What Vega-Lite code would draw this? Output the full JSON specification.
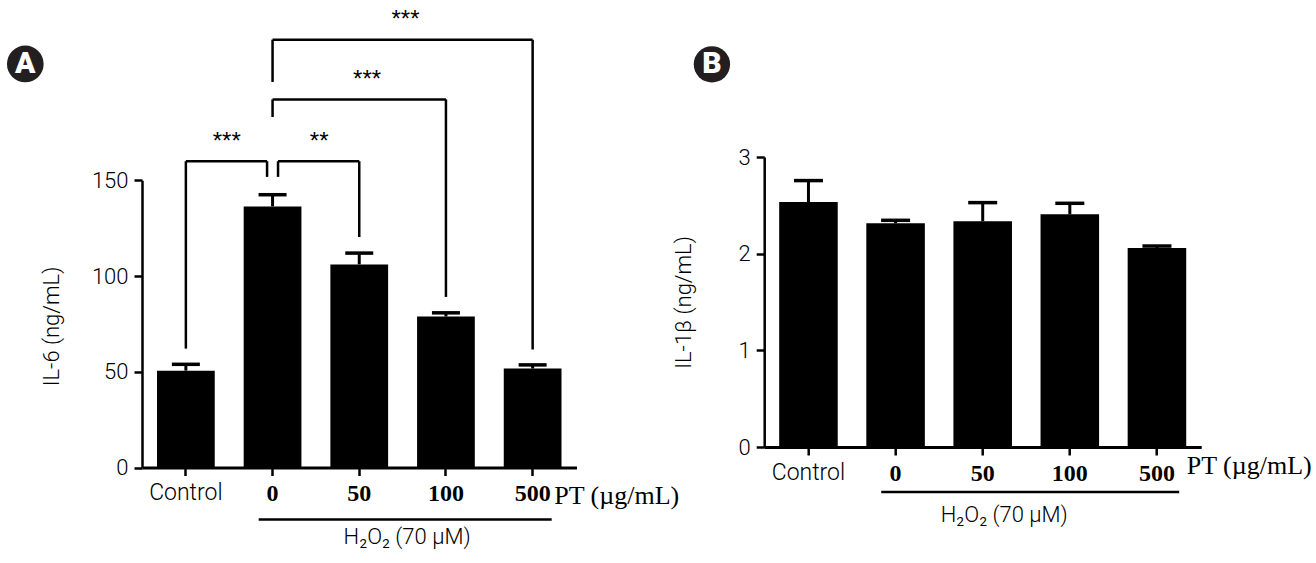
{
  "$schema": "https://vega.github.io/schema/vega-lite/v6.json",
  "padding": {"left": 6, "top": 8, "right": 5, "bottom": 5},
  "bounds": "flush",
  "spacing": 187.2,
  "datasets": {
    "il6": [
      {"group": "Control", "mean": 50.6, "upper": 53.9},
      {"group": "0", "mean": 136.4, "upper": 142.5},
      {"group": "50", "mean": 106.1, "upper": 112.0},
      {"group": "100", "mean": 78.9, "upper": 80.8},
      {"group": "500", "mean": 51.7, "upper": 53.6}
    ],
    "il1b": [
      {"group": "Control", "mean": 2.534, "upper": 2.756},
      {"group": "0", "mean": 2.314, "upper": 2.345},
      {"group": "50", "mean": 2.335, "upper": 2.528},
      {"group": "100", "mean": 2.407, "upper": 2.521},
      {"group": "500", "mean": 2.059, "upper": 2.079}
    ],
    "sigA": [
      {"pair": "Control-0", "g1": "Control", "g2": "0", "top": 160.0, "foot1": 62.1, "foot2": 151.8, "stars": "***", "starY": 166.6},
      {"pair": "0-50", "g1": "0", "g2": "50", "top": 160.0, "foot1": 151.8, "foot2": 120.4, "stars": "**", "starY": 166.6},
      {"pair": "0-100", "g1": "0", "g2": "100", "top": 192.3, "foot1": 183.1, "foot2": 89.1, "stars": "***", "starY": 198.7},
      {"pair": "0-500", "g1": "0", "g2": "500", "top": 223.5, "foot1": 201.4, "foot2": 61.7, "stars": "***", "starY": 230.1}
    ],
    "treatment": [
      {"label": "H₂O₂ (70 µM)", "from": "0", "to": "500"}
    ],
    "badges": [
      {"panel": "A"},
      {"panel": "B"}
    ]
  },
  "config": {
    "view": {"stroke": null},
    "font": "Roboto",
    "axis": {
      "grid": false,
      "domainColor": "#000",
      "tickColor": "#000",
      "labelColor": "#000",
      "titleColor": "#000",
      "domainWidth": 2.5,
      "tickWidth": 2.5,
      "tickSize": 8,
      "labelFont": "Roboto",
      "labelFontWeight": 300,
      "labelFontSize": 22,
      "labelPadding": 6,
      "titleFont": "Roboto",
      "titleFontWeight": 300,
      "titleFontSize": 22
    }
  },
  "hconcat": [
    {
      "width": 434.5,
      "height": 310.5,
      "layer": [
        {
          "data": {"name": "il6"},
          "mark": {"type": "bar", "color": "#000"},
          "encoding": {
            "x": {
              "field": "group", "type": "nominal", "sort": null,
              "scale": {"domain": ["Control", "0", "50", "100", "500"], "paddingInner": 0.334, "paddingOuter": 0.173},
              "axis": {
                "title": "PT (µg/mL)",
                "labelAngle": 0,
                "domainWidth": 3,
                "labelFont": {"condition": {"test": "datum.value === 'Control'", "value": "Roboto"}, "value": "Liberation Serif"},
                "labelFontWeight": {"condition": {"test": "datum.value === 'Control'", "value": 300}, "value": "bold"},
                "labelFontSize": {"condition": {"test": "datum.value === 'Control'", "value": 23}, "value": 24},
                "titleFont": "Liberation Serif",
                "titleFontWeight": "normal",
                "titleFontSize": 26,
                "titleAlign": "left",
                "titleBaseline": "alphabetic",
                "titleX": 411.7,
                "titleY": 35.8
              }
            },
            "y": {
              "field": "mean", "type": "quantitative",
              "scale": {"domain": [0, 162.2], "nice": false},
              "axis": {"title": "IL-6 (ng/mL)", "values": [0, 50, 100, 150], "format": "d", "domainDash": [287.2, 60], "titlePadding": 28, "titleY": 169}
            }
          }
        },
        {
          "data": {"name": "il6"},
          "mark": {"type": "rule", "color": "#000", "strokeWidth": 3},
          "encoding": {
            "x": {"field": "group", "type": "nominal", "bandPosition": 0.5},
            "y": {"field": "mean", "type": "quantitative"},
            "y2": {"field": "upper"}
          }
        },
        {
          "data": {"name": "il6"},
          "mark": {"type": "tick", "color": "#000", "orient": "horizontal", "size": 28, "thickness": 3.5, "opacity": 1},
          "encoding": {
            "x": {"field": "group", "type": "nominal"},
            "y": {"field": "upper", "type": "quantitative"}
          }
        },
        {
          "data": {"name": "sigA"},
          "transform": [{"filter": "datum.pair === 'Control-0'"}],
          "layer": [
            {"mark": {"type": "rule", "color": "#000", "strokeWidth": 2.5},
             "encoding": {"x": {"field": "g1", "type": "nominal", "bandPosition": 0.5}, "x2": {"field": "g2", "bandPosition": 0.405}, "y": {"field": "top", "type": "quantitative"}}},
            {"mark": {"type": "rule", "color": "#000", "strokeWidth": 2.5},
             "encoding": {"x": {"field": "g1", "type": "nominal", "bandPosition": 0.5}, "y": {"field": "top", "type": "quantitative"}, "y2": {"field": "foot1"}}},
            {"mark": {"type": "rule", "color": "#000", "strokeWidth": 2.5},
             "encoding": {"x": {"field": "g2", "type": "nominal", "bandPosition": 0.405}, "y": {"field": "top", "type": "quantitative"}, "y2": {"field": "foot2"}}},
            {"mark": {"type": "text", "font": "Liberation Sans", "fontSize": 24, "align": "center", "baseline": "alphabetic", "color": "#000"},
             "encoding": {"x": {"field": "g1", "type": "nominal", "bandPosition": 1.208}, "y": {"field": "starY", "type": "quantitative"}, "text": {"field": "stars"}}}
          ]
        },
        {
          "data": {"name": "sigA"},
          "transform": [{"filter": "datum.pair === '0-50'"}],
          "layer": [
            {"mark": {"type": "rule", "color": "#000", "strokeWidth": 2.5},
             "encoding": {"x": {"field": "g1", "type": "nominal", "bandPosition": 0.595}, "x2": {"field": "g2", "bandPosition": 0.5}, "y": {"field": "top", "type": "quantitative"}}},
            {"mark": {"type": "rule", "color": "#000", "strokeWidth": 2.5},
             "encoding": {"x": {"field": "g1", "type": "nominal", "bandPosition": 0.595}, "y": {"field": "top", "type": "quantitative"}, "y2": {"field": "foot1"}}},
            {"mark": {"type": "rule", "color": "#000", "strokeWidth": 2.5},
             "encoding": {"x": {"field": "g2", "type": "nominal", "bandPosition": 0.5}, "y": {"field": "top", "type": "quantitative"}, "y2": {"field": "foot2"}}},
            {"mark": {"type": "text", "font": "Liberation Sans", "fontSize": 24, "align": "center", "baseline": "alphabetic", "color": "#000"},
             "encoding": {"x": {"field": "g1", "type": "nominal", "bandPosition": 1.308}, "y": {"field": "starY", "type": "quantitative"}, "text": {"field": "stars"}}}
          ]
        },
        {
          "data": {"name": "sigA"},
          "transform": [{"filter": "datum.pair === '0-100' || datum.pair === '0-500'"}],
          "layer": [
            {"mark": {"type": "rule", "color": "#000", "strokeWidth": 2.5},
             "encoding": {"x": {"field": "g1", "type": "nominal", "bandPosition": 0.5}, "x2": {"field": "g2", "bandPosition": 0.5}, "y": {"field": "top", "type": "quantitative"}}},
            {"mark": {"type": "rule", "color": "#000", "strokeWidth": 2.5},
             "encoding": {"x": {"field": "g1", "type": "nominal", "bandPosition": 0.5}, "y": {"field": "top", "type": "quantitative"}, "y2": {"field": "foot1"}}},
            {"mark": {"type": "rule", "color": "#000", "strokeWidth": 2.5},
             "encoding": {"x": {"field": "g2", "type": "nominal", "bandPosition": 0.5}, "y": {"field": "top", "type": "quantitative"}, "y2": {"field": "foot2"}}}
          ]
        },
        {
          "data": {"name": "sigA"},
          "transform": [{"filter": "datum.pair === '0-100'"}],
          "mark": {"type": "text", "font": "Liberation Sans", "fontSize": 24, "align": "center", "baseline": "alphabetic", "color": "#000"},
          "encoding": {"x": {"field": "g1", "type": "nominal", "bandPosition": 2.137}, "y": {"field": "starY", "type": "quantitative"}, "text": {"field": "stars"}}
        },
        {
          "data": {"name": "sigA"},
          "transform": [{"filter": "datum.pair === '0-500'"}],
          "mark": {"type": "text", "font": "Liberation Sans", "fontSize": 24, "align": "center", "baseline": "alphabetic", "color": "#000"},
          "encoding": {"x": {"field": "g1", "type": "nominal", "bandPosition": 2.802}, "y": {"field": "starY", "type": "quantitative"}, "text": {"field": "stars"}}
        },
        {
          "data": {"name": "treatment"},
          "layer": [
            {"mark": {"type": "rule", "color": "#000", "strokeWidth": 2.5},
             "encoding": {"x": {"field": "from", "type": "nominal", "bandPosition": 0.26}, "x2": {"field": "to", "bandPosition": 0.83}, "y": {"datum": -27.1}}},
            {"mark": {"type": "text", "font": "Roboto", "fontWeight": 300, "fontSize": 22, "align": "center", "baseline": "alphabetic", "color": "#000"},
             "encoding": {"x": {"datum": "50", "bandPosition": 1.329}, "y": {"datum": -40.1}, "text": {"field": "label"}}}
          ]
        },
        {
          "data": {"name": "badges"},
          "transform": [{"filter": "datum.panel === 'A'"}],
          "layer": [
            {"mark": {"type": "point", "shape": "circle", "filled": true, "size": 1346, "color": "#231f20", "opacity": 1},
             "encoding": {"x": {"datum": "Control", "bandPosition": -2.281}, "y": {"datum": 210.8}}},
            {"mark": {"type": "text", "font": "Roboto", "fontWeight": 900, "fontSize": 30, "align": "center", "baseline": "middle", "color": "#fff"},
             "encoding": {"x": {"datum": "Control", "bandPosition": -2.281}, "y": {"datum": 210.8}, "text": {"field": "panel"}}}
          ]
        }
      ]
    },
    {
      "width": 437,
      "height": 290,
      "layer": [
        {
          "data": {"name": "il1b"},
          "mark": {"type": "bar", "color": "#000"},
          "encoding": {
            "x": {
              "field": "group", "type": "nominal", "sort": null,
              "scale": {"domain": ["Control", "0", "50", "100", "500"], "paddingInner": 0.328, "paddingOuter": 0.172},
              "axis": {
                "title": "PT (µg/mL)",
                "labelAngle": 0,
                "domainWidth": 3,
                "labelFont": {"condition": {"test": "datum.value === 'Control'", "value": "Roboto"}, "value": "Liberation Serif"},
                "labelFontWeight": {"condition": {"test": "datum.value === 'Control'", "value": 300}, "value": "bold"},
                "labelFontSize": {"condition": {"test": "datum.value === 'Control'", "value": 23}, "value": 24},
                "titleFont": "Liberation Serif",
                "titleFontWeight": "normal",
                "titleFontSize": 26,
                "titleAlign": "left",
                "titleBaseline": "alphabetic",
                "titleX": 422,
                "titleY": 26.3
              }
            },
            "y": {
              "field": "mean", "type": "quantitative",
              "scale": {"domain": [0, 3], "nice": false},
              "axis": {"title": "IL-1β (ng/mL)", "values": [0, 1, 2, 3], "format": "d", "titlePadding": 42}
            }
          }
        },
        {
          "data": {"name": "il1b"},
          "mark": {"type": "rule", "color": "#000", "strokeWidth": 3},
          "encoding": {
            "x": {"field": "group", "type": "nominal", "bandPosition": 0.5},
            "y": {"field": "mean", "type": "quantitative"},
            "y2": {"field": "upper"}
          }
        },
        {
          "data": {"name": "il1b"},
          "mark": {"type": "tick", "color": "#000", "orient": "horizontal", "size": 29, "thickness": 3.5, "opacity": 1},
          "encoding": {
            "x": {"field": "group", "type": "nominal"},
            "y": {"field": "upper", "type": "quantitative"}
          }
        },
        {
          "data": {"name": "treatment"},
          "layer": [
            {"mark": {"type": "rule", "color": "#000", "strokeWidth": 2.5},
             "encoding": {"x": {"field": "from", "type": "nominal", "bandPosition": 0.255}, "x2": {"field": "to", "bandPosition": 0.88}, "y": {"datum": -0.4655}}},
            {"mark": {"type": "text", "font": "Roboto", "fontWeight": 300, "fontSize": 22, "align": "center", "baseline": "alphabetic", "color": "#000"},
             "encoding": {"x": {"datum": "50", "bandPosition": 0.868}, "y": {"datum": -0.779}, "text": {"field": "label"}}}
          ]
        },
        {
          "data": {"name": "badges"},
          "transform": [{"filter": "datum.panel === 'B'"}],
          "layer": [
            {"mark": {"type": "point", "shape": "circle", "filled": true, "size": 1320, "color": "#231f20", "opacity": 1},
             "encoding": {"x": {"datum": "Control", "bandPosition": -1.149}, "y": {"datum": 3.959}}},
            {"mark": {"type": "text", "font": "Roboto", "fontWeight": 900, "fontSize": 30, "align": "center", "baseline": "middle", "color": "#fff"},
             "encoding": {"x": {"datum": "Control", "bandPosition": -1.149}, "y": {"datum": 3.959}, "text": {"field": "panel"}}}
          ]
        }
      ]
    }
  ]
}
